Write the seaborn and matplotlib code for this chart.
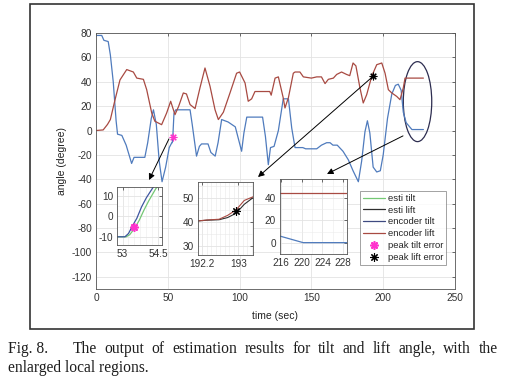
import seaborn as sns
import matplotlib.pyplot as plt
from matplotlib.patches import Ellipse, Rectangle
from matplotlib.lines import Line2D
from matplotlib.ticker import MultipleLocator, FormatStrFormatter

# main traces (estimate and encoder overlap at this scale)
tilt_time = [0, 4, 5.5, 8.5, 10, 12, 14, 15, 18, 21, 24.8, 26.5, 34, 36, 38.5, 40,
             42, 44, 46, 48.5, 51, 52.8, 53.1, 53.5, 54.3, 55.5, 65.5, 67, 70, 72,
             73.5, 78, 80, 83, 85, 87.5, 92, 97, 101.4, 103, 105, 116, 118, 120,
             121.5, 124, 127, 130.4, 134, 136.3, 138.6, 144, 146, 153.7, 157, 160.6,
             163, 165, 168, 172, 175.7, 179, 182.7, 185, 187.3, 189, 190.7, 193,
             195.5, 198, 200, 203, 206, 208.5, 210.5, 212.5, 214, 216, 220, 228]
tilt_angle = [78, 78, 74, 73, 62, 40, 8, -3, -4, -12, -27, -22, -22, -10, 10, 17,
              5, -25, -42, -30, -14, -10, -10, -5, 14, 17, 17, 5, -21, -13,
              -11, -11, -18, -21, -10, 9, 7, 3, -17, -2, 11, 11, -5, -28,
              -14, -13, 0, 26, 26, 2, -14, -14, -15, -15, -12, -10,
              -10, -12, -12, -17, -24, -33, -42, -25, -1, 8, -2, -30,
              -34, -33, -20, 10, 30, 37, 38, 33, 15, 6.4, 0.8, 0.8]

lift_time = [0, 5, 8, 10, 13.2, 16.7, 21.4, 26, 28.4, 33, 35.3, 38.8, 41, 45.7, 49.2,
             52, 55, 57.6, 60.8, 63, 65.5, 69, 72.4, 75.9, 79.4, 82.9, 85.2, 88.7,
             93.3, 97.9, 100, 103.8, 106, 108.4, 110.7, 116.5, 121, 122, 124.7, 127,
             130.4, 131.6, 134, 137.4, 138.6, 142, 144.4, 150, 153.7, 157, 159.5,
             161.8, 165.3, 167.6, 171, 174.5, 176.7, 179, 181, 183.8, 186.1, 188.5,
             192, 195.5, 199, 201.3, 203.6, 206, 209.4, 211.7, 214, 215.2, 228]
lift_angle = [0, 0.5, 5, 9, 25, 41.5, 50, 48, 43, 42, 33.5, 14.4, 7.6, 4.8, 14.4,
              24, 13, 20, 30.8, 30, 21.3, 18, 35, 51.3, 36.3, 17, 9, 15,
              30.8, 47, 48, 39, 24, 26, 32, 32, 32, 29, 43, 44,
              26.7, 18.5, 27, 47, 48, 48, 44, 43, 44, 44, 38.5,
              42, 43, 46, 48, 46, 45, 55.4, 53, 35, 22.6, 29.4,
              44.5, 54, 55.4, 47, 33.5, 30.8, 28, 25.3, 35, 43, 43]

peak_tilt = (53.5, -5)
peak_lift = (192.95, 44.5)

# enlarged region 1 (tilt, t = 53..54.5)
z1_time_enc = [52.7, 53.1, 53.25, 53.45, 53.6, 53.8, 54.0, 54.3, 54.7]
z1_enc_tilt = [-10, -10, -8.4, -4, -1, 4.6, 9, 14.4, 19]
z1_time_est = [52.7, 53.15, 53.3, 53.5, 53.7, 53.9, 54.1, 54.4, 54.7]
z1_est_tilt = [-10, -10, -9, -6, -2, 3, 7.5, 13.5, 17]

# enlarged region 2 (lift, t = 192.2..193)
z2_time = [192.1, 192.3, 192.57, 192.76, 192.95, 193.13, 193.35]
z2_enc_lift = [40.4, 40.8, 41.1, 42.7, 45, 48.9, 50.6]
z2_est_lift = [40.4, 40.7, 40.9, 41.8, 43.6, 47.3, 50.4]

# enlarged region 3 (end of run)
z3_time = [215.8, 220.3, 228.7]
z3_tilt = [6.4, 0.6, 0.6]
z3_lift = [43.8, 43.8, 43.8]

c_est_tilt = '#74c874'
c_est_lift = '#2e2e2e'
c_enc_tilt = '#4f7bbd'
c_enc_lift = '#a84a42'
grid_c = '#e3e3e3'

sns.set_style('white')
plt.rcParams['font.family'] = ['Liberation Sans', 'DejaVu Sans']
plt.rcParams['axes.unicode_minus'] = False

W, H = 508, 380
fig = plt.figure(figsize=(W / 100, H / 100), dpi=100)


def box(x0, y0, x1, y1):
    # pixel box (top-left origin) -> figure fraction
    return [x0 / W, 1 - y1 / H, (x1 - x0) / W, (y1 - y0) / H]


def style(ax, size=7.2):
    ax.tick_params(direction='in', length=2.5, width=0.5, top=True, right=True,
                   labelsize=size, pad=3, colors='#333')
    ax.tick_params(which='minor', length=0)
    for s in ax.spines.values():
        s.set_color('#555')
        s.set_linewidth(0.6)
    ax.grid(True, which='major', color=grid_c, lw=0.6)
    ax.set_axisbelow(True)
    ax.xaxis.set_major_formatter(FormatStrFormatter('%g'))
    ax.yaxis.set_major_formatter(FormatStrFormatter('%g'))


ax = fig.add_axes(box(96, 33, 455, 289))
sns.lineplot(x=tilt_time, y=tilt_angle, ax=ax, color=c_enc_tilt, lw=0.9,
             sort=False, estimator=None)
sns.lineplot(x=lift_time, y=lift_angle, ax=ax, color=c_enc_lift, lw=0.9,
             sort=False, estimator=None)
ax.plot(*peak_tilt, marker=(8, 2, 0), color='#ff33cc', ms=5.5, mew=0.8)
ax.plot(*peak_lift, marker=(8, 2, 0), color='k', ms=5.5, mew=0.8)
ax.set_xlim(0, 250)
ax.set_ylim(-130, 80)
ax.xaxis.set_major_locator(MultipleLocator(50))
ax.yaxis.set_major_locator(MultipleLocator(20))
style(ax, 7.3)
ax.set_xlabel('time (sec)', fontsize=7.5, color='#222')
ax.set_ylabel('angle (degree)', fontsize=7.5, color='#222')
ax.xaxis.set_label_coords(0.5, -0.085)
ax.yaxis.set_label_coords(-0.082, 0.5)
ax.add_patch(Ellipse((223.9, 23.7), 19.8, 65.6, fill=False, ec='#2d2d50', lw=0.9))

# inset 1
a1 = fig.add_axes(box(117.3, 186.7, 162.3, 245))
sns.lineplot(x=z1_time_est, y=z1_est_tilt, ax=a1, color=c_est_tilt, lw=0.9,
             sort=False, estimator=None)
sns.lineplot(x=z1_time_enc, y=z1_enc_tilt, ax=a1, color='#3e56a0', lw=0.9,
             sort=False, estimator=None)
a1.plot(*peak_tilt, marker=(8, 2, 0), color='#ff33cc', ms=6, mew=1.2)
a1.set_xlim(52.78, 54.67)
a1.set_ylim(-14, 14.4)
a1.set_xticks([53, 54.5])
a1.set_yticks([-10, 0, 10])
a1.xaxis.set_minor_locator(MultipleLocator(0.25))
a1.yaxis.set_minor_locator(MultipleLocator(5))
style(a1)
a1.grid(True, which='minor', color='#ececec', lw=0.4)

# inset 2
a2 = fig.add_axes(box(198.3, 182.3, 253.3, 255))
sns.lineplot(x=z2_time, y=z2_est_lift, ax=a2, color=c_est_lift, lw=0.8,
             sort=False, estimator=None)
sns.lineplot(x=z2_time, y=z2_enc_lift, ax=a2, color=c_enc_lift, lw=0.8,
             sort=False, estimator=None)
a2.plot(*peak_lift, marker=(8, 2, 0), color='k', ms=6, mew=0.8)
a2.set_xlim(192.11, 193.33)
a2.set_ylim(26.3, 56.4)
a2.set_xticks([192.2, 193])
a2.set_yticks([30, 40, 50])
a2.xaxis.set_minor_locator(MultipleLocator(0.1))
a2.yaxis.set_minor_locator(MultipleLocator(5))
style(a2)
a2.grid(True, which='minor', color='#e8e8e8', lw=0.4)

# inset 3
a3 = fig.add_axes(box(280, 179.3, 346.7, 254.3))
sns.lineplot(x=z3_time, y=z3_lift, ax=a3, color=c_enc_lift, lw=0.9,
             sort=False, estimator=None)
sns.lineplot(x=z3_time, y=z3_tilt, ax=a3, color=c_enc_tilt, lw=0.9,
             sort=False, estimator=None)
a3.set_xlim(215.87, 228.65)
a3.set_ylim(-9.6, 56)
a3.set_xticks([216, 220, 224, 228])
a3.set_yticks([0, 20, 40])
a3.xaxis.set_minor_locator(MultipleLocator(2))
a3.yaxis.set_minor_locator(MultipleLocator(10))
style(a3)
a3.grid(True, which='minor', color='#ececec', lw=0.4)

# arrows from main plot to the enlarged regions
arrow = dict(arrowstyle='-|>', color='k', lw=0.7, mutation_scale=9, shrinkA=0, shrinkB=0)
ax.annotate('', xy=(149, H - 180), xycoords='figure pixels',
            xytext=(50.8, -6.9), textcoords='data', arrowprops=arrow)
ax.annotate('', xy=(258, H - 177), xycoords='figure pixels',
            xytext=peak_lift, textcoords='data', arrowprops=arrow)
ax.annotate('', xy=(327, H - 174), xycoords='figure pixels',
            xytext=(213.8, -4.4), textcoords='data', arrowprops=arrow)

# legend
handles = [
    Line2D([], [], color=c_est_tilt, lw=0.9),
    Line2D([], [], color=c_est_lift, lw=0.9),
    Line2D([], [], color='#3e4a80', lw=0.9),
    Line2D([], [], color=c_enc_lift, lw=0.9),
    Line2D([], [], ls='none', marker=(8, 2, 0), color='#ff33cc', ms=6, mew=1.2),
    Line2D([], [], ls='none', marker=(8, 2, 0), color='k', ms=6, mew=0.8),
]
labels = ['esti tilt', 'esti lift', 'encoder tilt', 'encoder lift',
          'peak tilt error', 'peak lift error']
leg = fig.legend(handles, labels, loc='upper left', bbox_to_anchor=(360 / W, 1 - 191 / H),
                 fontsize=6.8, frameon=True, fancybox=False, edgecolor='#777',
                 handlelength=2.3, handletextpad=0.35, labelspacing=0.3,
                 borderpad=0.3, borderaxespad=0)
leg.get_frame().set_linewidth(0.6)

# outer frame around the figure
fig.add_artist(Rectangle((30 / W, 1 - 329.3 / H), 444.3 / W, 325 / H,
                         transform=fig.transFigure, fill=False, lw=1.2, ec='#333'))

# caption, justified on the first line
serif = ['Liberation Serif', 'DejaVu Serif']
cap_kw = dict(fontsize=11.2, family=serif, color='#1e1e1e', va='baseline')
fig.text(7.5 / W, 1 - 353.3 / H, 'Fig. 8.', **cap_kw)
words = 'The output of estimation results for tilt and lift angle, with the'.split()
texts = [fig.text(0, 1 - 353.3 / H, w, **cap_kw) for w in words]
fig.canvas.draw()
r = fig.canvas.get_renderer()
widths = [t.get_window_extent(r).width for t in texts]
x0, x1 = 72.7, 497.5
gap = (x1 - x0 - sum(widths)) / (len(words) - 1)
x = x0
for t, w in zip(texts, widths):
    t.set_x(x / W)
    x += w + gap
fig.text(7.5 / W, 1 - 371.5 / H, 'enlarged local regions.', **cap_kw)

plt.savefig('out.png', dpi=100)
